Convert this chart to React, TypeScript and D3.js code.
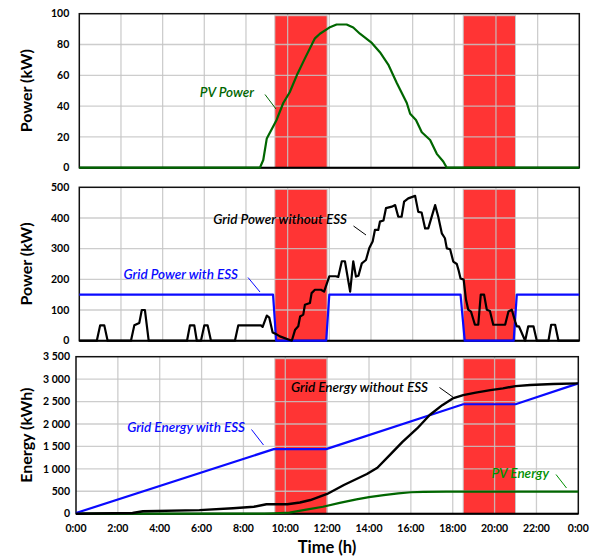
import * as d3 from 'd3';
import React, { useEffect, useRef } from 'react';

// peak tariff windows (h)
const peakWindows = [[9.5, 12], [18.5, 21]];

const hourTicks = [0, 2, 4, 6, 8, 10, 12, 14, 16, 18, 20, 22, 24];
const hourLabels = ['0:00', '2:00', '4:00', '6:00', '8:00', '10:00', '12:00', '14:00', '16:00', '18:00', '20:00', '22:00', '0:00'];

const pvTicks = [0, 20, 40, 60, 80, 100];
const gridTicks = [0, 100, 200, 300, 400, 500];
const energyTicks = [0, 500, 1000, 1500, 2000, 2500, 3000, 3500];

// PV power (kW)
const pvHours = [0, 8.67, 8.83, 9.0, 9.47, 9.79, 10.1, 10.44, 10.83, 11.31, 11.55, 12.0, 12.35, 12.83, 13.15, 13.47, 14.04, 14.43, 14.83, 15.24, 15.72, 15.88, 16.16, 16.44, 16.84, 17.16, 17.47, 17.64, 24];
const pvPower = [0, 0, 5, 19, 31, 42, 49, 60, 71, 84, 87, 91, 93, 93, 91, 87, 81, 75, 67, 55, 42, 35, 31, 23, 18, 9, 4, 0, 0];

// grid power with ESS (kW)
const essHours = [0, 9.3, 9.45, 11.85, 12.0, 18.3, 18.5, 20.85, 21.0, 24];
const essPower = [150, 150, 0, 0, 150, 150, 0, 0, 150, 150];

// grid power without ESS (kW)
const gridHours = [0, 0.84, 1.0, 1.2, 1.36, 2.48, 2.64, 2.88, 3.0, 3.15, 3.33, 5.17, 5.31, 5.52, 5.64, 5.84, 6.0, 6.16, 6.32,
  7.47, 7.63, 8.72, 8.8, 9.0, 9.12, 9.28, 9.44, 9.63, 10.2, 10.36, 10.51, 10.6, 10.75, 10.83, 11.07, 11.15, 11.31, 11.6, 11.75,
  12.0, 12.3, 12.43, 12.6, 12.75, 13.0, 13.15, 13.28, 13.4, 13.56, 13.76, 13.92, 14.08, 14.19, 14.35, 14.43, 14.6, 14.72, 15.0,
  15.16, 15.31, 15.47, 15.59, 15.79, 16.12, 16.27, 16.43, 16.6, 16.75, 17.08, 17.23, 17.4, 17.55, 17.64, 17.8, 17.95, 18.12,
  18.2, 18.3, 18.45, 18.56, 18.67, 18.8, 18.99, 19.15, 19.27, 19.43, 19.56, 19.71, 19.87, 20.44, 20.6, 20.76, 20.92, 21.0, 21.1,
  21.4, 21.55, 21.8, 21.96, 22.52, 22.65, 22.84, 23.0, 24];
const gridPower = [0, 0, 50, 50, 0, 0, 50, 58, 100, 100, 0, 0, 50, 50, 0, 0, 50, 50, 0,
  0, 50, 50, 45, 82, 75, 27, 22, 14, 0, 36, 47, 79, 85, 117, 123, 155, 166, 166, 160,
  210, 210, 208, 259, 259, 160, 259, 209, 212, 252, 263, 302, 323, 361, 361, 388, 392, 432, 437,
  442, 404, 404, 453, 464, 472, 420, 418, 366, 366, 442, 404, 350, 334, 301, 298, 258, 250,
  231, 203, 199, 134, 101, 95, 52, 52, 150, 150, 101, 97, 52, 52, 95, 101, 63, 47, 47,
  0, 47, 47, 0, 0, 52, 52, 0, 0];

// cumulative energy (kWh)
const essEnergyHours = [0, 9.45, 11.95, 18.5, 21.0, 24];
const essEnergy = [15, 1440, 1440, 2440, 2440, 2905];

const gridEnergyHours = [0, 2.7, 3.2, 5.9, 7.5, 8.5, 9.1, 10.1, 10.7, 11.2, 12.0, 12.8, 13.9, 14.4, 15.0, 15.6, 16.3, 16.9, 17.5, 18.0, 18.5, 19.1, 19.8, 20.4, 21.0, 21.7, 22.8, 24];
const gridEnergy = [0, 15, 55, 80, 120, 155, 210, 210, 250, 305, 440, 640, 885, 1025, 1310, 1600, 1900, 2200, 2420, 2570, 2645, 2700, 2755, 2795, 2845, 2870, 2890, 2905];

const pvEnergyHours = [0, 9.0, 9.5, 10.2, 11.0, 11.8, 12.6, 13.4, 14.0, 14.7, 15.4, 16.0, 16.6, 17.7, 24];
const pvEnergy = [0, 0, 10, 25, 90, 155, 240, 320, 370, 415, 455, 478, 488, 492, 492];

const BLUE = '#0a0aff';
const GREEN = '#006600';
const BLACK = '#000000';

const zip = (xs: number[], ys: number[]) => xs.map((h, i) => [h, ys[i]] as [number, number]);

const panels = [
  {
    left: 79.3, right: 579.3, top: 13.7, bottom: 167.7, max: 100, ticks: pvTicks, title: 'Power (kW)', tickOff: 10,
    series: [{ data: zip(pvHours, pvPower), color: GREEN, width: 2.2 }],
    labels: [{ text: 'PV Power', x: 254, y: 97, color: GREEN, leader: [265, 94.5, 276, 109] }],
  },
  {
    left: 79.3, right: 579.3, top: 187.3, bottom: 340.7, max: 500, ticks: gridTicks, title: 'Power (kW)', tickOff: 10,
    series: [
      { data: zip(essHours, essPower), color: BLUE, width: 2.2 },
      { data: zip(gridHours, gridPower), color: BLACK, width: 2.2 },
    ],
    labels: [
      { text: 'Grid Power without ESS', x: 347, y: 224, color: BLACK, leader: [353.5, 226, 366, 235] },
      { text: 'Grid Power with ESS', x: 238, y: 279, color: BLUE, leader: [248, 277.5, 260, 292] },
    ],
  },
  {
    left: 76, right: 578.3, top: 356.7, bottom: 513.7, max: 3500, ticks: energyTicks, title: 'Energy (kWh)', tickOff: 6,
    series: [
      { data: zip(pvEnergyHours, pvEnergy), color: GREEN, width: 2.2 },
      { data: zip(essEnergyHours, essEnergy), color: BLUE, width: 2.2 },
      { data: zip(gridEnergyHours, gridEnergy), color: BLACK, width: 2.4 },
    ],
    labels: [
      { text: 'Grid Energy without ESS', x: 428, y: 392, color: BLACK, leader: [439.5, 387.5, 453.5, 397.5] },
      { text: 'Grid Energy with ESS', x: 245, y: 432, color: BLUE, leader: [251.5, 429.5, 263.5, 445] },
      { text: 'PV Energy', x: 549, y: 478, color: '#009000', leader: [556, 474.5, 566.5, 488] },
    ],
  },
];

const fmtSpace = (v: number) => d3.format(',')(v).replace(/,/g, ' ');

const App = () => {
  const svgRef = useRef<SVGSVGElement>(null);

  useEffect(() => {
    const svg = d3.select(svgRef.current);
    svg.selectAll('*').remove();

    // the peak bands line up across the three panels
    const xBand = d3.scaleLinear().domain([0, 24]).range([76, 578.3]);

    panels.forEach((p, pi) => {
      const x = d3.scaleLinear().domain([0, 24]).range([p.left, p.right]);
      const y = d3.scaleLinear().domain([0, p.max]).range([p.bottom, p.top]);
      const g = svg.append('g');

      g.selectAll(null)
        .data(peakWindows)
        .enter()
        .append('rect')
        .attr('x', d => xBand(d[0]))
        .attr('width', d => xBand(d[1]) - xBand(d[0]))
        .attr('y', p.top + 2)
        .attr('height', p.bottom - p.top - 2)
        .attr('fill', '#ff3434')
        .attr('stroke', '#c9c9c9')
        .attr('stroke-width', 1);

      g.selectAll(null)
        .data(hourTicks.slice(1, -1))
        .enter()
        .append('line')
        .attr('x1', d => x(d)).attr('x2', d => x(d))
        .attr('y1', p.top).attr('y2', p.bottom)
        .attr('stroke', '#c4c4c4')
        .attr('stroke-opacity', 0.85)
        .attr('stroke-width', 1.3);

      g.selectAll(null)
        .data(p.ticks.slice(1, -1))
        .enter()
        .append('line')
        .attr('x1', p.left).attr('x2', p.right)
        .attr('y1', d => y(d)).attr('y2', d => y(d))
        .attr('stroke', '#c4c4c4')
        .attr('stroke-opacity', 0.85)
        .attr('stroke-width', 1.3);

      g.append('rect')
        .attr('x', p.left).attr('y', p.top)
        .attr('width', p.right - p.left).attr('height', p.bottom - p.top)
        .attr('fill', 'none')
        .attr('stroke', '#111')
        .attr('stroke-width', 1.5);

      g.append('line')
        .attr('x1', p.left).attr('x2', p.right)
        .attr('y1', p.bottom).attr('y2', p.bottom)
        .attr('stroke', '#000')
        .attr('stroke-width', 2);

      const line = d3.line<[number, number]>()
        .x(d => x(d[0]))
        .y(d => y(d[1]));

      g.selectAll(null)
        .data(p.series)
        .enter()
        .append('path')
        .attr('d', s => line(s.data))
        .attr('fill', 'none')
        .attr('stroke', s => s.color)
        .attr('stroke-width', s => s.width)
        .attr('stroke-linejoin', 'round');

      g.selectAll(null)
        .data(p.ticks)
        .enter()
        .append('text')
        .attr('x', p.left - p.tickOff)
        .attr('y', d => y(d))
        .attr('dy', '0.36em')
        .attr('text-anchor', 'end')
        .attr('font-size', 10.5)
        .attr('font-weight', 'bold')
        .text(d => fmtSpace(d));

      g.append('text')
        .attr('transform', `translate(32,${(p.top + p.bottom) / 2}) rotate(-90)`)
        .attr('text-anchor', 'middle')
        .attr('font-size', 16)
        .attr('font-weight', 'bold')
        .text(p.title);

      p.labels.forEach(l => {
        g.append('text')
          .attr('x', l.x).attr('y', l.y)
          .attr('text-anchor', 'end')
          .attr('font-size', 13.5)
          .attr('font-style', 'italic')
          .attr('font-weight', 600)
          .attr('fill', l.color)
          .text(l.text);
        g.append('line')
          .attr('x1', l.leader[0]).attr('y1', l.leader[1])
          .attr('x2', l.leader[2]).attr('y2', l.leader[3])
          .attr('stroke', l.color)
          .attr('stroke-width', 1);
      });

      if (pi === panels.length - 1) {
        g.selectAll(null)
          .data(hourTicks)
          .enter()
          .append('text')
          .attr('x', d => x(d))
          .attr('y', 532)
          .attr('text-anchor', 'middle')
          .attr('font-size', 10.5)
          .attr('font-weight', 'bold')
          .text((d, i) => hourLabels[i]);

        g.append('text')
          .attr('x', 327)
          .attr('y', 553)
          .attr('text-anchor', 'middle')
          .attr('font-size', 16.5)
          .attr('font-weight', 'bold')
          .text('Time (h)');
      }
    });
  }, []);

  return (
    <svg
      ref={svgRef}
      width={594}
      height={556}
      style={{ position: 'absolute', left: 0, top: 0, fontFamily: 'Lato, sans-serif', background: '#fff' }}
    />
  );
};

export default App;
